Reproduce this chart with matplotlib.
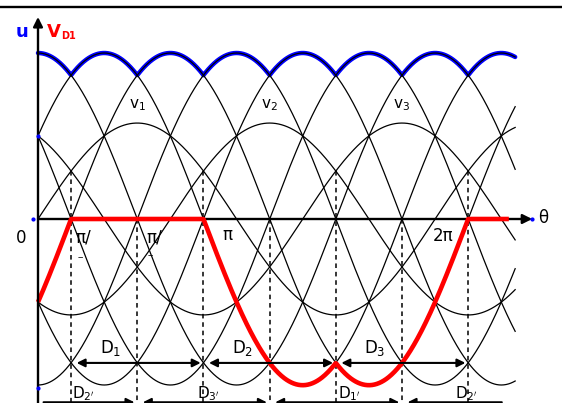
import numpy as np
import matplotlib.pyplot as plt
from matplotlib.lines import Line2D

plt.rcParams['font.family'] = ['DejaVu Sans']
plt.rcParams['mathtext.fontset'] = 'dejavusans'

W, H = 562, 403

# waveform parameters (u in units of the line-voltage peak)
theta_end = 7.55
red_end = 7.45
line_amp = 1.0
line_shift_deg = [0, 60, 120, 180, 240, 300]
phase_amp = 0.578
phase_shift_deg = [0, 120, 240]
phase_names = ['v$_1$', 'v$_2$', 'v$_3$']

# dashed commutation lines: angle (multiples of pi/6) and top of the dash
dash_k = [1, 3, 5, 7, 9, 11, 13]
dash_top = [0.289, 0.0, 0.289, 0.0, 0.289, 0.0, 0.289]

# conduction intervals (multiples of pi/6)
upper_names = ['D$_1$', 'D$_2$', 'D$_3$']
upper_span = [(1, 5), (5, 9), (9, 13)]
upper_y = -0.867
lower_names = ["D$_{2'}$", "D$_{3'}$", "D$_{1'}$", "D$_{2'}$"]
lower_span = [(0, 3), (3, 7), (7, 11), (11, 14.1)]
lower_y = -1.104

# axis scaling: 63.2 px per radian, 166 px per unit, origin at (38, 219)
xscale, yscale, x0, y0 = 63.2, 166.0, 38.0, 219.0

fig = plt.figure(figsize=(W / 100, H / 100), dpi=100)
ax = fig.add_axes([0, 0, 1, 1])
ax.set_xlim(-x0 / xscale, (W - x0) / xscale)
ax.set_ylim(-(H - y0) / yscale, y0 / yscale)
ax.axis('off')

th = np.linspace(0, theta_end, 800)
lines = [line_amp * np.cos(th - np.deg2rad(s)) for s in line_shift_deg]
phases = [phase_amp * np.sin(th - np.deg2rad(s)) for s in phase_shift_deg]

# upper envelope (blue) under the thin black curves
env = np.max(lines, axis=0)
ax.plot(th, env, color='#0000ff', lw=3.2, solid_capstyle='round', zorder=2)
for c in lines + phases:
    ax.plot(th, c, color='k', lw=0.9, zorder=3)

# diode voltage V_D1 = v1 - max(v)
thr = np.linspace(0, red_end, 800)
ph_r = [phase_amp * np.sin(thr - np.deg2rad(s)) for s in phase_shift_deg]
vd1 = ph_r[0] - np.max(ph_r, axis=0)
ax.plot(thr, vd1, color='#ff0000', lw=3.3, zorder=5, solid_capstyle='butt')

# dashed lines
for k, top in zip(dash_k, dash_top):
    t = k * np.pi / 6
    ax.plot([t, t], [top, -1.2], color='k', lw=1.1, ls=(0, (3, 2.5)), zorder=4)

# axes with arrows
ax.annotate('', xy=(0, 1.217), xytext=(0, -1.2),
            arrowprops=dict(arrowstyle='-|>', color='k', lw=1.7,
                            mutation_scale=14, shrinkA=0, shrinkB=0), zorder=6)
ax.annotate('', xy=(7.82, 0), xytext=(0, 0),
            arrowprops=dict(arrowstyle='-|>', color='k', lw=1.7,
                            mutation_scale=14, shrinkA=0, shrinkB=0), zorder=4)
ax.plot([-0.08, 7.82, 0, 0], [0, 0, 0.5, -1.02], 'o', color='#0000ff', ms=2, zorder=7)

# conduction arrows
for name, (a, b) in zip(upper_names, upper_span):
    ax.annotate('', xy=(b * np.pi / 6, upper_y), xytext=(a * np.pi / 6, upper_y),
                arrowprops=dict(arrowstyle='<|-|>', color='k', lw=1.5,
                                mutation_scale=12, shrinkA=4, shrinkB=2), zorder=6)
    ax.text((a * np.pi / 6) + 0.45, upper_y + 0.03, name, fontsize=12,
            ha='left', va='bottom', zorder=7)

for i, (name, (a, b)) in enumerate(zip(lower_names, lower_span)):
    style = '-|>' if i == 0 else ('<|-' if i == len(lower_span) - 1 else '<|-|>')
    ax.annotate('', xy=(b * np.pi / 6, lower_y), xytext=(a * np.pi / 6, lower_y),
                arrowprops=dict(arrowstyle=style, color='k', lw=1.5,
                                mutation_scale=12, shrinkA=4, shrinkB=2), zorder=6)

lower_label_x = [72, 197, 338, 455]
for name, xp in zip(lower_names, lower_label_x):
    fig.text(xp / W, 1 - 398 / H, name, fontsize=11, ha='left', va='baseline')

# phase voltage labels
for name, s in zip(phase_names, phase_shift_deg):
    t = np.deg2rad(s) + np.pi / 2
    ax.text(t, phase_amp + 0.06, name, fontsize=11, ha='center', va='bottom', zorder=7)


def ptext(x, y, s, **kw):
    fig.text(x / W, 1 - y / H, s, **kw)


ptext(22, 37, 'u', color='#0000ff', fontsize=13, fontweight='bold', ha='center', va='baseline')
ptext(47, 37, 'V', color='#ff0000', fontsize=13, fontweight='bold', ha='left', va='baseline')
ptext(61, 39, 'D1', color='#ff0000', fontsize=7, fontweight='bold', ha='left', va='baseline')
ptext(16, 243, '0', fontsize=12, ha='left', va='baseline')
ptext(75, 242, 'π/', fontsize=12, ha='left', va='baseline')
ptext(78, 260, '‒', fontsize=6, ha='left', va='baseline')
ptext(146, 242, 'π/', fontsize=12, ha='left', va='baseline')
ptext(148, 258, '‒', fontsize=6, ha='left', va='baseline')
ptext(222, 240, 'π', fontsize=12, ha='left', va='baseline')
ptext(433, 241, '2π', fontsize=12, ha='left', va='baseline')
ptext(538, 223, 'θ', fontsize=12, ha='left', va='baseline')

fig.add_artist(Line2D([0, 1], [1 - 6.7 / H] * 2, color='k', lw=1.7))

fig.savefig('out.png', dpi=100)
